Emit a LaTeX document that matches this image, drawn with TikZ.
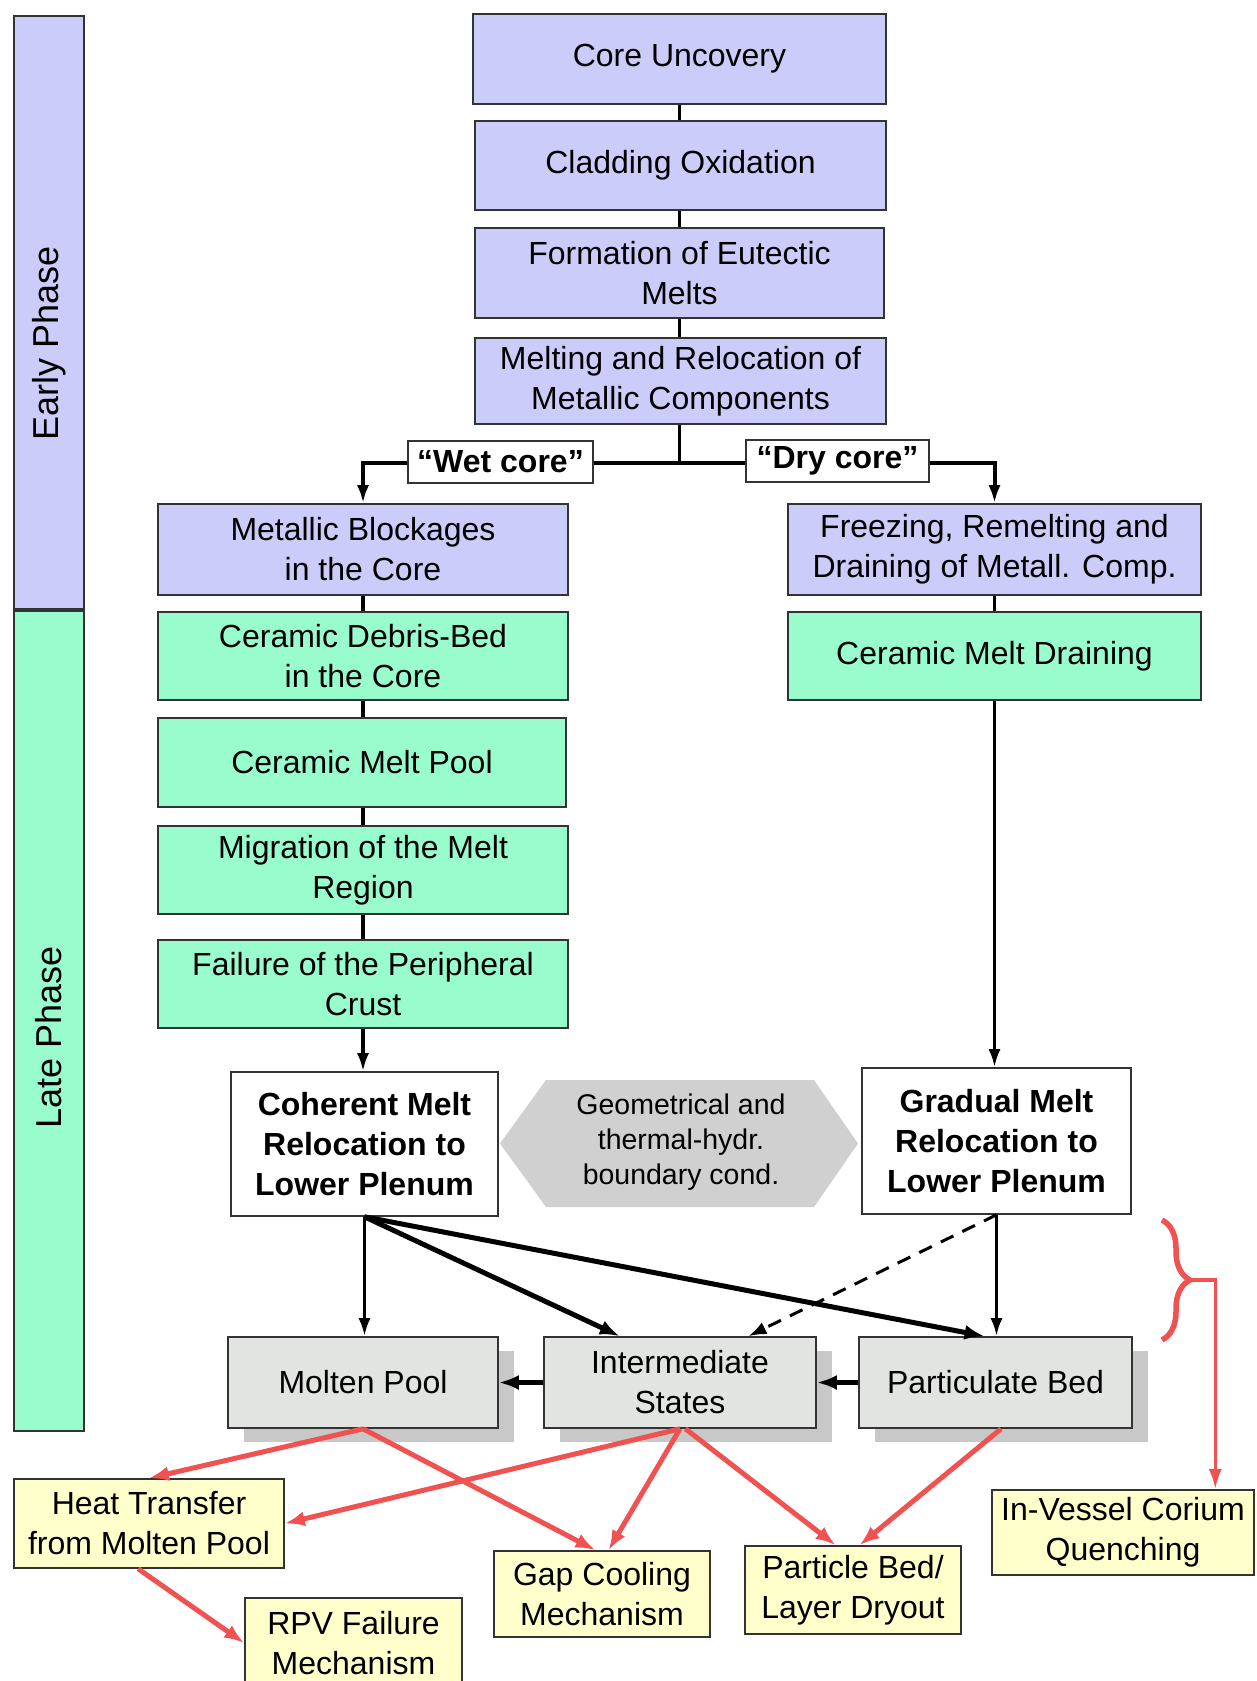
\documentclass[tikz,border=0pt]{standalone}
\usepackage{fontspec}
\setmainfont{Liberation Sans}
\usetikzlibrary{arrows.meta,decorations.pathreplacing,shadows,calc}
\definecolor{eblue}{RGB}{204,204,250}
\definecolor{lgreen}{RGB}{153,252,204}
\definecolor{pyell}{RGB}{255,255,204}
\definecolor{lgray}{RGB}{226,228,226}
\definecolor{shad}{RGB}{200,200,200}
\definecolor{hexg}{RGB}{208,208,208}
\definecolor{rline}{RGB}{240,82,82}
\newcommand\bxfont{\fontsize{32}{40}\selectfont}
\newcommand\bxfontb{\fontsize{32}{40}\selectfont\bfseries}
\newcommand\hxfont{\fontsize{28.5}{35}\selectfont}
\newcommand\phfont{\fontsize{36}{40}\selectfont}
\begin{document}
\begin{tikzpicture}[x=1pt,y=-1pt,
  bx/.style={draw=black!80, line width=1.6pt, inner sep=0pt, align=center, font=\bxfont},
  blu/.style={bx, fill=eblue},
  grn/.style={bx, fill=lgreen},
  wht/.style={bx, fill=white, font=\bxfontb},
  gry/.style={bx, fill=lgray, drop shadow={shadow xshift=16pt, shadow yshift=-14pt, fill=shad, opacity=1}},
  yel/.style={bx, fill=pyell},
  lbl/.style={bx, fill=white, font=\bxfontb},
  con/.style={line width=3.2pt},
  arr/.style={line width=3.2pt, -{Latex[length=18pt,width=12pt]}},
  tarr/.style={line width=5pt, -{Latex[length=20pt,width=15pt]}},
  darr/.style={line width=3pt, dash pattern=on 14pt off 10pt, -{Latex[length=18pt,width=13pt]}},
  rarr/.style={draw=rline, line width=5pt, -{Latex[length=20pt,width=15pt]}},
]
\useasboundingbox (0,0) rectangle (1257,1681);
\clip (0,0) rectangle (1257,1681);

% phase bars
\node[bx, fill=eblue, minimum width=70pt, minimum height=593pt] (early) at (49,312.5) {};
\node[bx, fill=lgreen, minimum width=70pt, minimum height=820pt] (late) at (49,1021) {};
\node[rotate=90, font=\phfont] (earlyt) at (49,343) {Early Phase};
\node[rotate=90, font=\phfont] (latet) at (49,1037) {Late Phase};

% early chain
\node[blu, minimum width=413pt, minimum height=90pt] (core) at (679.5,59) {Core Uncovery};
\node[blu, minimum width=411pt, minimum height=89pt] (clad) at (680.5,165.5) {Cladding Oxidation};
\node[blu, minimum width=409pt, minimum height=90pt] (eut) at (679.5,273) {Formation of Eutectic\\Melts};
\node[blu, minimum width=411pt, minimum height=86pt] (melt) at (680.5,381) {Melting and Relocation of\\Metallic Components};

% left column
\node[blu, minimum width=410pt, minimum height=91pt] (metal) at (363,549.5) {Metallic Blockages\\in the Core};
\node[grn, minimum width=410pt, minimum height=88pt] (debris) at (363,656) {Ceramic Debris-Bed\\in the Core};
\node[grn, minimum width=408pt, minimum height=89pt] (cpool) at (362,762.5) {Ceramic Melt Pool};
\node[grn, minimum width=410pt, minimum height=88pt] (migr) at (363,870) {Migration of the Melt\\Region};
\node[grn, minimum width=410pt, minimum height=88pt] (fail) at (363,984) {Failure of the Peripheral\\Crust};

% right column
\node[blu, minimum width=413pt, minimum height=91pt] (freez) at (994.5,549.5) {Freezing, Remelting and\\Draining of Metall. Comp.};
\node[grn, minimum width=413pt, minimum height=88pt] (drain) at (994.5,656) {Ceramic Melt Draining};

% relocation
\node[wht, minimum width=267pt, minimum height=144pt] (coh) at (364.5,1144) {Coherent Melt\\Relocation to\\Lower Plenum};
\node[wht, minimum width=269pt, minimum height=146pt] (grad) at (996.5,1141) {Gradual Melt\\Relocation to\\Lower Plenum};
\fill[hexg] (500,1143.5) -- (546,1080) -- (814,1080) -- (858,1143.5) -- (814,1207) -- (546,1207) -- cycle;
\node[font=\hxfont, align=center, inner sep=0pt] (hex) at (681,1142) {Geometrical and\\thermal-hydr.\\boundary cond.};

% states
\node[gry, minimum width=270pt, minimum height=91pt] (molten) at (363,1382.5) {Molten Pool};
\node[gry, minimum width=272pt, minimum height=91pt] (inter) at (680,1382.5) {Intermediate\\States};
\node[gry, minimum width=273pt, minimum height=91pt] (partic) at (995.5,1382.5) {Particulate Bed};

% mechanisms
\node[yel, minimum width=270pt, minimum height=89pt] (heat) at (149,1523.5) {Heat Transfer\\from Molten Pool};
\node[yel, minimum width=217pt, minimum height=90pt] (rpv) at (353.5,1643) {RPV Failure\\Mechanism};
\node[yel, minimum width=216pt, minimum height=86pt] (gap) at (602,1594) {Gap Cooling\\Mechanism};
\node[yel, minimum width=216pt, minimum height=88pt] (pbed) at (853,1590) {Particle Bed/\\Layer Dryout};
\node[yel, minimum width=262pt, minimum height=85pt] (invess) at (1123,1532.5) {In-Vessel Corium\\Quenching};

% early connectors
\draw[con] (core.south) -- (core.south |- clad.north);
\draw[con] (core.south |- clad.south) -- (core.south |- eut.north);
\draw[con] (core.south |- eut.south) -- (core.south |- melt.north);
\draw[con] (core.south |- melt.south) -- ++(0,38) coordinate (split);
\draw[line width=4pt, -{Latex[length=18pt,width=12pt]}] (split) -| (metal.north);
\draw[line width=4pt, -{Latex[length=18pt,width=12pt]}] (split) -| (freez.north);
\node[lbl, minimum width=185pt, minimum height=42pt] (wet) at (500.5,462) {``Wet core''};
\node[lbl, minimum width=183pt, minimum height=42pt] (dry) at (837.5,461) {``Dry core''};

% column connectors
\draw[con] (metal.south) -- (metal.south |- debris.north);
\draw[con] (metal.south |- debris.south) -- (metal.south |- cpool.north);
\draw[con] (metal.south |- cpool.south) -- (metal.south |- migr.north);
\draw[con] (metal.south |- migr.south) -- (metal.south |- fail.north);
\draw[arr] (fail.south) -- (fail.south |- coh.north);
\draw[con] (freez.south) -- (freez.south |- drain.north);
\draw[arr] (drain.south) -- (drain.south |- grad.north);

% relocation to states
\draw[arr] (coh.south) -- (coh.south |- molten.north);
\draw[tarr] (coh.south) -- ($(inter.north west)!0.28!(inter.north east)$);
\draw[tarr] (coh.south) -- ($(partic.north west)!0.46!(partic.north east)$);
\draw[arr] (grad.south) -- (grad.south |- partic.north);
\draw[darr] (grad.south) -- ($(inter.north west)!0.75!(inter.north east)$);
\draw[tarr] (partic.west) -- (inter.east);
\draw[tarr] (inter.west) -- (molten.east);

% red arrows
\draw[rarr] (molten.south) -- (heat.north);
\draw[rarr] (molten.south) -- ($(gap.north west)!0.47!(gap.north east)$);
\draw[rarr] (inter.south) -- (heat.east);
\draw[rarr] (inter.south) -- ($(gap.north west)!0.53!(gap.north east)$);
\draw[rarr] ($(inter.south west)!0.52!(inter.south east)$) -- ($(pbed.north west)!0.42!(pbed.north east)$);
\draw[rarr] ($(partic.south west)!0.52!(partic.south east)$) -- ($(pbed.north west)!0.53!(pbed.north east)$);
\draw[rarr] ($(heat.south west)!0.46!(heat.south east)$) -- (rpv.west);

% brace
\draw[rline, line width=5.5pt, decorate, decoration={brace, amplitude=28pt, aspect=0.5}] (1162,1220) -- (1162,1340);
\coordinate (btip) at (1190,1280);
\draw[draw=rline, line width=3.2pt, -{Latex[length=20pt,width=13pt]}] (btip) -| ($(invess.north west)!0.85!(invess.north east)$);
\end{tikzpicture}
\end{document}
